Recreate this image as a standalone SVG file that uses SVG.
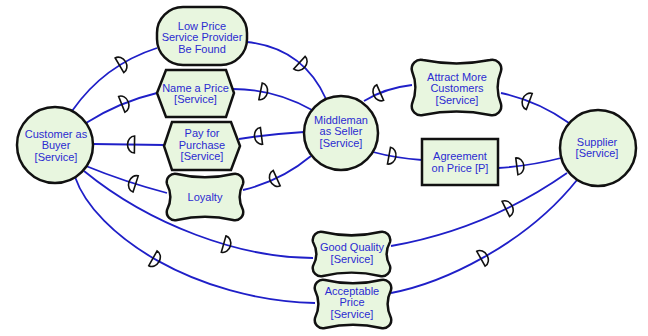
<svg xmlns="http://www.w3.org/2000/svg" width="648" height="336" viewBox="0 0 648 336">
<style>
.n{fill:#e8f6df;stroke:#111;stroke-width:2.5}
.c{fill:none;stroke:#1f1fc8;stroke-width:1.8}
.t{font-family:"Liberation Sans",Arial,sans-serif;font-size:11px;fill:#2b2bd1;text-anchor:middle}
.dm{fill:none;stroke:#111;stroke-width:1.6}
</style>
<defs>
<path id="dm" class="dm" d="M-3.5,-8.5 A7,8.5 0 0 1 -3.5,8.5 Z"/>
</defs>
<rect width="648" height="336" fill="#fff"/>
<g id="connectors">
<path class="c" d="M72,111 Q104,65 157,48"/>
<path class="c" d="M247,42 Q303,48 326,99"/>
<path class="c" d="M86,123 Q119,102 157,93"/>
<path class="c" d="M233,89 Q275,89 312,110"/>
<path class="c" d="M93,144 L164,145"/>
<path class="c" d="M239,139 Q270,134 304,132"/>
<path class="c" d="M86,166 Q125,182 167,193"/>
<path class="c" d="M243,190 Q281,181 311,156"/>
<path class="c" d="M364,101 Q385,88 412,85"/>
<path class="c" d="M501,93 Q538,101 569,123"/>
<path class="c" d="M373,152 Q395,158 422,160"/>
<path class="c" d="M498,168 Q530,166 561,158"/>
<path class="c" d="M84,171 C150,225 240,258 313,258"/>
<path class="c" d="M391,246 Q487,229 567,173"/>
<path class="c" d="M75,177 C95,235 195,300 315,303"/>
<path class="c" d="M391,293 C443,283 525,245 577,180"/>
<use href="#dm" transform="translate(122.5,63.5) rotate(-30.7)"/>
<use href="#dm" transform="translate(302,65) rotate(42.3)"/>
<use href="#dm" transform="translate(125,103) rotate(-21.6)"/>
<use href="#dm" transform="translate(264,92) rotate(11.3)"/>
<use href="#dm" transform="translate(131,144.5) rotate(180.8)"/>
<use href="#dm" transform="translate(258,136.3) rotate(172.7)"/>
<use href="#dm" transform="translate(132.3,182.9) rotate(197.8)"/>
<use href="#dm" transform="translate(273.5,179.6) rotate(155.6)"/>
<use href="#dm" transform="translate(377,94) rotate(156.3)"/>
<use href="#dm" transform="translate(526,100.3) rotate(200.3)"/>
<use href="#dm" transform="translate(392.4,156.3) rotate(10.2)"/>
<use href="#dm" transform="translate(520.3,165.9) rotate(-7.4)"/>
<use href="#dm" transform="translate(227,245) rotate(15.9)"/>
<use href="#dm" transform="translate(509,207.4) rotate(-26.3)"/>
<use href="#dm" transform="translate(156,260) rotate(29.3)"/>
<use href="#dm" transform="translate(484,257) rotate(-29.4)"/>
</g>
<g id="customer">
<circle class="n" cx="55" cy="145" r="38"/>
<text class="t" x="56" y="137.5">Customer as</text>
<text class="t" x="56" y="149">Buyer</text>
<text class="t" x="56" y="160.5">[Service]</text>
</g>
<g id="lowprice">
<rect class="n" x="157" y="7" width="90" height="58" rx="26" ry="26"/>
<text class="t" x="202" y="29.5">Low Price</text>
<text class="t" x="202" y="41">Service Provider</text>
<text class="t" x="202" y="52.5">Be Found</text>
</g>
<g id="nameprice">
<polygon class="n" points="157,93 166,70 226,70 234,93 226,117 166,117"/>
<text class="t" x="195.5" y="91.5">Name a Price</text>
<text class="t" x="195.5" y="103">[Service]</text>
</g>
<g id="payforpurchase">
<polygon class="n" points="164,146 172,122 231,122 240,146 231,170 172,170"/>
<text class="t" x="202" y="137">Pay for</text>
<text class="t" x="202" y="148.5">Purchase</text>
<text class="t" x="202" y="160">[Service]</text>
</g>
<g id="loyalty">
<path class="n" d="M177,174 C195.7,178.5 214.3,178.5 233,174 C239,172.5 244.5,178 243,184 C238.5,192.7 238.5,201.3 243,210 C244.5,216 239,221.5 233,220 C214.3,215.5 195.7,215.5 177,220 C171,221.5 165.5,216 167,210 C171.5,201.3 171.5,192.7 167,184 C165.5,178 171,172.5 177,174 Z"/>
<text class="t" x="205" y="201">Loyalty</text>
</g>
<g id="middleman">
<circle class="n" cx="341" cy="133" r="37"/>
<text class="t" x="341" y="123.5">Middleman</text>
<text class="t" x="341" y="135">as Seller</text>
<text class="t" x="341" y="146.5">[Service]</text>
</g>
<g id="attract">
<path class="n" d="M423,60 C445.3,64.5 467.7,64.5 490,60 C496.6,58.35 502.65,64.4 501,71 C496.5,82 496.5,93 501,104 C502.65,110.6 496.6,116.65 490,115 C467.7,110.5 445.3,110.5 423,115 C416.4,116.65 410.35,110.6 412,104 C416.5,93 416.5,82 412,71 C410.35,64.4 416.4,58.35 423,60 Z"/>
<text class="t" x="457" y="80.5">Attract More</text>
<text class="t" x="457" y="92">Customers</text>
<text class="t" x="457" y="103.5">[Service]</text>
</g>
<g id="agreement">
<rect class="n" x="422" y="139" width="76" height="46"/>
<text class="t" x="460" y="159.5">Agreement</text>
<text class="t" x="460" y="171.5">on Price [P]</text>
</g>
<g id="supplier">
<circle class="n" cx="598" cy="148" r="38"/>
<text class="t" x="597" y="145.5">Supplier</text>
<text class="t" x="597" y="157">[Service]</text>
</g>
<g id="goodquality">
<path class="n" d="M323,232 C342,236.5 361,236.5 380,232 C386,230.5 391.5,236 390,242 C385.5,250 385.5,258 390,266 C391.5,272 386,277.5 380,276 C361,271.5 342,271.5 323,276 C317,277.5 311.5,272 313,266 C317.5,258 317.5,250 313,242 C311.5,236 317,230.5 323,232 Z"/>
<text class="t" x="352" y="251">Good Quality</text>
<text class="t" x="352" y="263">[Service]</text>
</g>
<g id="acceptableprice">
<path class="n" d="M325,280 C343.7,284.5 362.3,284.5 381,280 C387,278.5 392.5,284 391,290 C386.5,299.3 386.5,308.7 391,318 C392.5,324 387,329.5 381,328 C362.3,323.5 343.7,323.5 325,328 C319,329.5 313.5,324 315,318 C319.5,308.7 319.5,299.3 315,290 C313.5,284 319,278.5 325,280 Z"/>
<text class="t" x="352" y="294.5">Acceptable</text>
<text class="t" x="352" y="306">Price</text>
<text class="t" x="352" y="317.5">[Service]</text>
</g>
</svg>
